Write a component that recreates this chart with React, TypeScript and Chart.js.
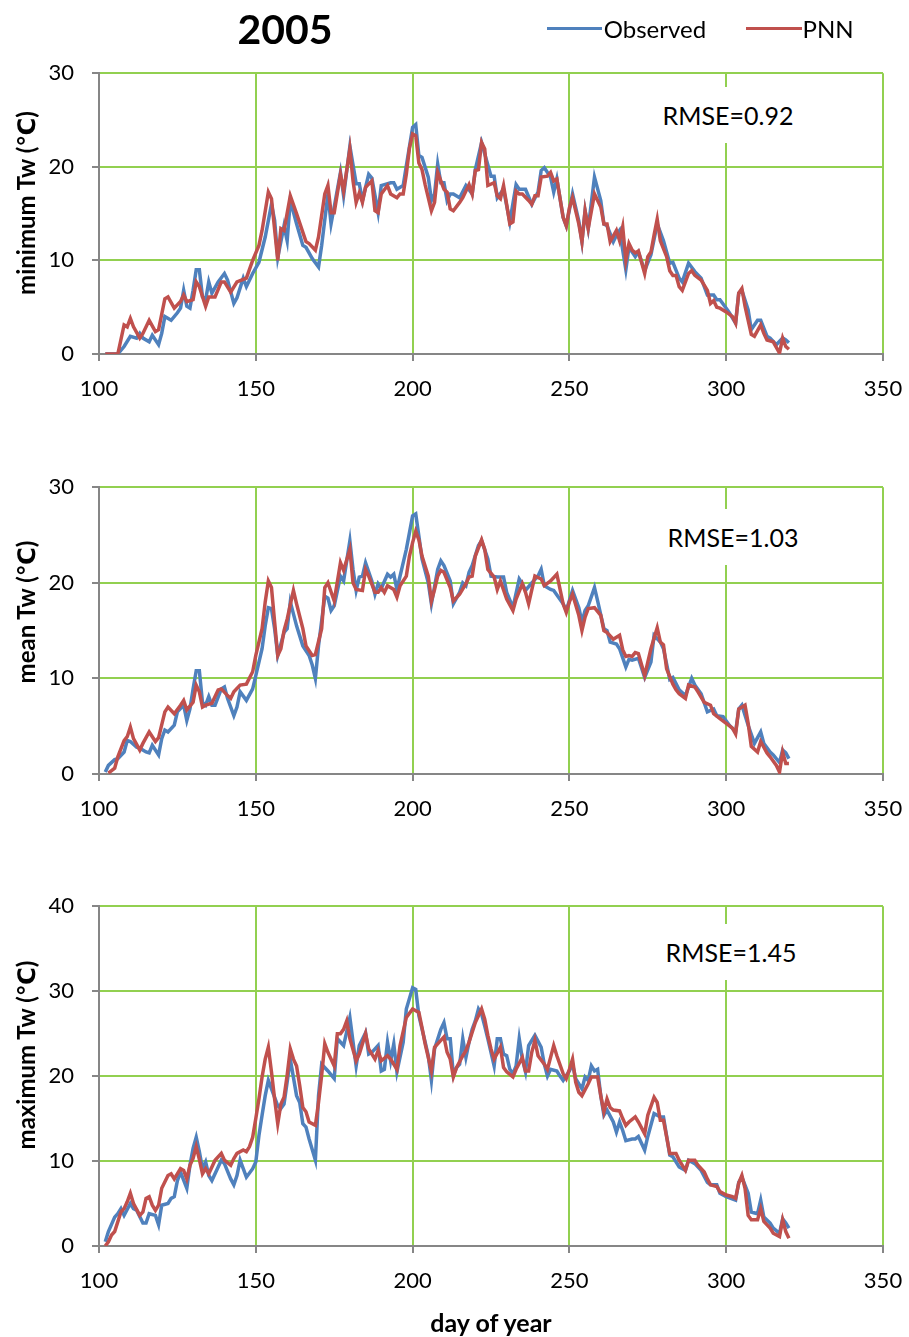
import React, { useEffect, useRef } from 'react';
import { Chart, registerables } from 'chart.js';

Chart.register(...registerables);

type Pt = [number, number];

const xTicks = [100, 150, 200, 250, 300, 350];
const legendLabels = ['Observed', 'PNN'];
const yearTitle = '2005';
const yTitles = ['minimum Tw (℃)', 'mean Tw (℃)', 'maximum Tw (℃)'];
const rmseLabels = ['RMSE=0.92', 'RMSE=1.03', 'RMSE=1.45'];
const yMaxima = [30, 30, 40];

const minObserved: Pt[] = [
  [102, 0], [106, 0], [108, 0.8], [110, 1.9], [112, 1.7], [113, 2.2], [114, 1.7], [116, 1.3], [117, 2.0], [119, 1.0],
  [120, 2.2], [121, 4.0], [123, 3.6], [125, 4.4], [126, 4.9], [127, 6.8], [128, 5.1], [129, 4.9], [130, 6.8], [131, 9.0],
  [132, 9.0], [133, 6.1], [134, 5.8], [135, 7.7], [136, 6.5], [138, 7.7], [140, 8.6], [141, 7.9], [143, 5.4], [144, 6.0],
  [146, 8.1], [147, 7.2], [149, 8.6], [151, 9.8], [153, 12.5], [155, 16.0], [156, 14.3], [157, 10.3], [159, 13.7], [160, 12.1],
  [161, 16.4], [163, 13.9], [165, 11.6], [166, 11.4], [168, 10.2], [170, 9.3], [171, 11.6], [173, 17.1], [174, 13.9], [175, 15.7],
  [177, 19.4], [178, 16.9], [180, 22.2], [182, 18.2], [183, 18.2], [184, 16.4], [186, 19.2], [187, 18.8], [189, 15.1], [190, 18.0],
  [191, 18.1], [193, 18.3], [194, 18.3], [195, 17.6], [197, 18.0], [198, 20.1], [200, 24.2], [201, 24.5], [202, 21.2], [203, 21.0],
  [205, 18.9], [206, 16.4], [207, 17.1], [208, 20.3], [209, 18.3], [210, 18.3], [211, 16.4], [212, 17.1], [213, 17.1], [215, 16.7],
  [217, 18.0], [219, 17.1], [220, 19.7], [222, 22.6], [225, 19.0], [226, 19.0], [227, 16.7], [229, 17.6], [231, 14.1], [233, 18.1],
  [234, 17.6], [236, 17.6], [238, 16.0], [240, 17.3], [241, 19.6], [242, 19.9], [244, 18.9], [245, 17.3], [246, 18.7], [248, 14.6],
  [249, 13.7], [251, 17.1], [253, 14.2], [254, 12.0], [255, 15.3], [256, 13.4], [258, 18.9], [260, 16.4], [261, 13.9], [262, 13.7],
  [264, 12.0], [265, 12.7], [266, 13.2], [268, 9.0], [269, 11.4], [271, 10.4], [272, 10.9], [274, 8.9], [276, 10.6], [278, 13.9],
  [280, 12.1], [282, 9.7], [283, 9.8], [285, 8.1], [286, 7.7], [288, 9.7], [290, 8.8], [292, 8.1], [294, 6.3], [296, 6.3],
  [297, 5.8], [298, 5.8], [300, 4.9], [301, 4.4], [303, 3.3], [304, 6.5], [305, 6.8], [307, 4.7], [308, 2.6], [310, 3.6],
  [311, 3.6], [313, 1.9], [314, 1.7], [316, 1.0], [318, 1.7], [319, 1.5], [320, 1.2],
];

const minPNN: Pt[] = [
  [102, 0], [106, 0], [108, 3.1], [109, 2.9], [110, 3.8], [111, 2.9], [113, 1.7], [114, 2.2], [116, 3.6], [118, 2.4],
  [119, 2.6], [121, 5.9], [122, 6.1], [124, 4.9], [126, 5.6], [127, 6.3], [128, 5.6], [130, 5.8], [131, 7.7], [132, 7.2],
  [134, 5.1], [135, 6.1], [137, 6.1], [139, 7.7], [140, 7.7], [142, 6.6], [144, 7.7], [147, 8.1], [149, 10.0], [151, 11.6],
  [152, 13.2], [154, 17.3], [155, 16.6], [157, 10.0], [158, 13.4], [159, 13.2], [161, 16.9], [163, 15.0], [166, 12.0], [167, 11.8],
  [169, 11.1], [170, 12.5], [172, 17.1], [173, 18.0], [174, 15.1], [175, 15.1], [177, 19.2], [178, 17.4], [180, 21.9], [181, 18.5],
  [182, 16.2], [183, 17.2], [184, 16.2], [185, 17.8], [187, 18.5], [188, 15.3], [189, 15.1], [190, 17.1], [192, 18.0], [193, 17.1],
  [195, 16.7], [196, 17.1], [197, 17.1], [198, 19.2], [199, 22.0], [200, 23.5], [201, 23.3], [202, 20.4], [203, 19.7], [204, 18.1],
  [206, 15.3], [207, 16.2], [208, 19.4], [210, 17.6], [211, 17.3], [212, 15.5], [213, 15.3], [215, 16.2], [216, 16.7], [218, 18.1],
  [219, 17.1], [220, 19.6], [221, 19.7], [222, 22.6], [223, 21.9], [224, 18.0], [226, 18.3], [227, 16.9], [228, 16.6], [229, 18.0],
  [231, 13.9], [232, 14.1], [233, 17.4], [234, 17.1], [235, 17.1], [237, 16.4], [238, 16.0], [239, 16.9], [240, 16.9], [241, 18.9],
  [243, 19.0], [244, 19.4], [245, 18.5], [246, 18.7], [248, 14.6], [249, 13.7], [250, 15.6], [251, 16.7], [253, 13.9], [254, 12.0],
  [255, 15.3], [256, 13.4], [258, 17.1], [260, 15.7], [261, 13.9], [262, 13.9], [263, 12.0], [265, 13.2], [266, 12.1], [267, 13.6],
  [268, 10.0], [269, 11.8], [270, 11.1], [271, 10.8], [272, 11.0], [274, 8.6], [275, 10.4], [276, 10.9], [277, 12.7], [278, 14.4],
  [279, 12.1], [281, 10.4], [282, 8.9], [283, 8.4], [284, 8.4], [285, 7.2], [286, 6.8], [288, 8.6], [289, 8.9], [290, 8.4],
  [292, 7.9], [294, 6.8], [295, 5.4], [296, 5.7], [297, 5.0], [298, 4.9], [300, 4.5], [302, 4.0], [303, 3.3], [304, 6.5],
  [305, 7.0], [306, 5.1], [308, 2.1], [309, 1.9], [311, 3.1], [312, 2.2], [313, 1.5], [315, 1.3], [317, 0.1], [318, 1.7],
  [319, 0.8], [320, 0.5],
];

const meanObserved: Pt[] = [
  [102, 0.2], [103, 0.9], [105, 1.5], [106, 1.6], [108, 2.3], [109, 3.5], [110, 3.4], [112, 2.8], [113, 2.7], [115, 2.3],
  [116, 2.2], [117, 3.0], [119, 2.0], [120, 3.7], [121, 4.6], [122, 4.4], [124, 5.1], [125, 6.5], [127, 7.2], [128, 5.6],
  [129, 6.8], [130, 8.9], [131, 10.8], [132, 10.8], [133, 7.5], [134, 7.2], [135, 8.1], [136, 7.2], [137, 7.2], [139, 8.9],
  [140, 9.1], [141, 7.9], [143, 6.1], [144, 7.0], [145, 8.6], [147, 7.7], [149, 8.9], [150, 10.3], [152, 13.1], [153, 15.5],
  [154, 17.4], [155, 17.3], [156, 15.2], [157, 12.4], [159, 14.8], [160, 15.2], [161, 18.0], [163, 15.5], [165, 13.4], [167, 12.4],
  [168, 11.4], [169, 10.0], [170, 13.4], [172, 18.6], [173, 18.4], [174, 17.1], [175, 17.6], [177, 20.7], [178, 20.2], [180, 24.4],
  [181, 21.4], [182, 19.2], [183, 20.6], [184, 20.7], [185, 22.1], [187, 20.2], [188, 18.8], [189, 19.9], [190, 19.4], [192, 20.9],
  [193, 20.6], [194, 20.9], [195, 19.3], [196, 20.7], [198, 23.5], [200, 27.0], [201, 27.2], [202, 24.9], [203, 22.5], [205, 20.0],
  [206, 17.8], [208, 21.4], [209, 22.3], [210, 21.8], [212, 20.2], [213, 17.8], [215, 19.0], [216, 20.0], [217, 19.7], [218, 21.1],
  [219, 21.8], [221, 23.9], [222, 24.4], [224, 22.5], [225, 20.7], [227, 20.6], [229, 20.6], [230, 19.0], [232, 17.4], [234, 20.4],
  [235, 19.9], [236, 19.2], [238, 20.0], [240, 20.7], [241, 21.4], [242, 19.7], [244, 19.3], [245, 19.2], [248, 17.8], [249, 17.1],
  [251, 19.2], [253, 17.4], [254, 15.9], [255, 17.1], [256, 17.6], [258, 19.5], [259, 18.1], [261, 15.2], [262, 15.0], [263, 13.8],
  [265, 13.6], [266, 13.1], [268, 11.2], [269, 12.0], [270, 11.9], [272, 12.1], [274, 10.1], [276, 11.7], [277, 14.5], [279, 13.8],
  [280, 13.1], [282, 9.9], [283, 10.1], [285, 8.8], [287, 8.2], [289, 10.0], [290, 9.3], [292, 8.4], [294, 6.5], [296, 6.8],
  [297, 6.1], [299, 6.0], [301, 5.1], [303, 4.4], [304, 6.8], [305, 7.2], [307, 5.1], [309, 3.2], [311, 4.4], [312, 3.2],
  [314, 2.3], [315, 2.0], [317, 1.2], [318, 2.5], [319, 2.2], [320, 1.6],
];

const meanPNN: Pt[] = [
  [103, 0.1], [105, 0.6], [106, 1.8], [108, 3.5], [109, 3.9], [110, 4.9], [111, 3.7], [113, 2.5], [114, 3.2], [116, 4.4],
  [117, 3.9], [118, 3.4], [119, 3.8], [121, 6.5], [122, 7.0], [124, 6.3], [126, 7.2], [127, 7.7], [128, 6.7], [130, 7.5],
  [131, 9.3], [132, 8.6], [133, 7.0], [134, 7.2], [136, 7.4], [138, 8.8], [139, 8.9], [141, 8.2], [142, 7.9], [143, 8.6],
  [145, 9.3], [147, 9.4], [149, 10.7], [150, 12.4], [152, 15.2], [153, 18.0], [154, 20.2], [155, 19.5], [156, 15.9], [157, 12.4],
  [158, 13.1], [159, 15.0], [160, 16.2], [162, 19.2], [163, 17.8], [165, 15.2], [166, 13.4], [168, 12.4], [169, 12.5], [171, 15.2],
  [172, 19.5], [173, 20.0], [175, 18.1], [177, 22.1], [178, 21.3], [180, 23.5], [181, 20.0], [182, 19.3], [184, 19.2], [185, 21.4],
  [186, 20.7], [188, 19.0], [189, 19.0], [190, 19.5], [191, 19.0], [192, 19.7], [194, 19.3], [195, 18.5], [196, 19.7], [198, 20.7],
  [199, 22.8], [200, 24.2], [201, 25.4], [202, 24.5], [203, 22.8], [205, 20.7], [206, 18.1], [207, 19.3], [208, 20.7], [209, 21.3],
  [210, 21.1], [212, 19.5], [213, 18.1], [215, 18.8], [217, 19.9], [218, 20.6], [219, 20.7], [220, 22.8], [222, 24.5], [223, 23.5],
  [224, 21.4], [226, 20.6], [227, 19.3], [228, 20.2], [230, 18.3], [232, 17.1], [233, 18.3], [235, 19.9], [236, 19.0], [237, 17.8],
  [239, 20.7], [241, 20.4], [242, 19.7], [244, 20.2], [246, 20.9], [248, 17.8], [249, 16.9], [250, 18.0], [251, 18.8], [253, 16.6],
  [254, 15.0], [255, 16.4], [256, 17.3], [258, 17.4], [260, 16.6], [261, 15.0], [262, 14.8], [264, 14.1], [265, 14.3], [266, 14.5],
  [267, 13.0], [268, 12.3], [269, 12.4], [270, 12.3], [271, 12.7], [272, 12.6], [274, 10.3], [275, 11.7], [276, 13.1], [278, 15.3],
  [279, 13.8], [280, 13.5], [281, 11.0], [283, 9.4], [284, 8.8], [285, 8.4], [287, 7.9], [288, 9.3], [290, 9.1], [291, 8.6],
  [293, 7.5], [295, 7.2], [296, 6.3], [298, 5.8], [300, 5.3], [302, 4.8], [303, 4.2], [304, 6.8], [306, 7.2], [307, 5.3],
  [308, 2.9], [310, 2.3], [311, 3.4], [313, 2.2], [314, 1.8], [316, 0.9], [317, 0.2], [318, 2.3], [319, 1.1], [320, 1.1],
];

const maxObserved: Pt[] = [
  [102, 0.5], [103, 1.7], [105, 3.4], [106, 3.8], [107, 4.4], [108, 3.6], [110, 5.0], [111, 4.4], [112, 4.2], [114, 2.7],
  [115, 2.7], [116, 3.8], [118, 3.6], [119, 2.5], [120, 4.8], [122, 5.0], [123, 5.6], [124, 5.8], [125, 7.7], [126, 8.7],
  [128, 6.8], [129, 9.5], [130, 11.5], [131, 12.8], [132, 11.1], [133, 9.1], [134, 9.9], [135, 8.3], [136, 7.7], [138, 9.3],
  [139, 10.1], [140, 9.7], [142, 7.9], [143, 7.2], [144, 8.3], [145, 10.1], [146, 9.1], [147, 8.1], [149, 9.1], [150, 9.9],
  [151, 13.0], [152, 15.4], [153, 17.7], [154, 19.5], [155, 18.5], [157, 16.5], [158, 16.2], [159, 16.7], [160, 19.3], [161, 22.0],
  [163, 17.7], [164, 16.9], [165, 14.4], [166, 14.0], [167, 12.6], [169, 10.1], [170, 17.7], [171, 21.4], [173, 20.6], [175, 19.7],
  [176, 24.4], [178, 23.6], [180, 26.9], [182, 21.2], [183, 23.6], [185, 25.1], [186, 22.6], [187, 22.8], [189, 23.6], [190, 20.6],
  [191, 20.8], [192, 24.0], [193, 21.8], [194, 23.8], [195, 20.5], [197, 24.0], [198, 27.9], [200, 30.4], [201, 30.2], [202, 27.1],
  [204, 24.0], [205, 22.4], [206, 19.5], [207, 23.2], [209, 25.5], [210, 26.3], [211, 24.4], [212, 24.4], [213, 20.1], [214, 21.0],
  [215, 21.4], [216, 24.4], [217, 22.2], [218, 24.0], [219, 25.5], [220, 26.5], [221, 27.9], [222, 27.3], [223, 25.9], [224, 24.4],
  [226, 21.2], [227, 24.4], [228, 24.4], [229, 22.6], [230, 22.4], [231, 20.8], [232, 20.3], [233, 21.2], [234, 24.4], [235, 22.0],
  [236, 20.5], [237, 23.6], [239, 24.8], [241, 23.4], [242, 21.4], [243, 20.0], [244, 20.8], [246, 20.6], [247, 20.0], [248, 19.5],
  [250, 20.6], [251, 21.4], [252, 19.7], [254, 18.5], [255, 19.9], [256, 19.5], [257, 21.2], [258, 20.6], [259, 20.8], [260, 17.7],
  [261, 15.4], [262, 16.0], [264, 14.6], [265, 13.4], [266, 14.6], [267, 13.6], [268, 12.4], [270, 12.6], [271, 12.6], [272, 12.9],
  [274, 11.3], [275, 12.9], [277, 15.6], [279, 15.2], [280, 15.2], [282, 10.7], [283, 10.5], [285, 9.3], [287, 8.9], [288, 10.1],
  [290, 9.7], [292, 8.9], [294, 7.5], [295, 7.2], [297, 7.2], [298, 6.2], [300, 5.8], [303, 5.4], [304, 7.5], [305, 8.1],
  [307, 6.2], [308, 4.0], [310, 3.8], [311, 5.4], [312, 3.4], [314, 2.7], [315, 2.1], [317, 1.5], [318, 3.2], [319, 2.7],
  [320, 2.1],
];

const maxPNN: Pt[] = [
  [102, 0], [103, 0.5], [104, 1.3], [105, 1.7], [107, 4.0], [108, 4.4], [109, 5.2], [110, 6.2], [111, 5.0], [113, 3.6],
  [114, 4.0], [115, 5.6], [116, 5.8], [117, 4.8], [118, 4.2], [119, 4.8], [120, 6.8], [122, 8.3], [123, 8.5], [124, 7.9],
  [126, 9.1], [127, 8.9], [128, 7.9], [129, 9.5], [130, 10.3], [131, 11.7], [132, 10.2], [133, 8.5], [134, 9.1], [135, 8.5],
  [137, 10.1], [139, 10.9], [140, 10.1], [142, 9.5], [143, 10.3], [144, 10.9], [146, 11.3], [147, 11.1], [148, 11.7], [149, 12.8],
  [150, 15.0], [151, 17.3], [152, 19.9], [153, 22.0], [154, 23.4], [155, 20.5], [156, 17.3], [157, 14.4], [158, 16.7], [159, 17.5],
  [160, 20.1], [161, 23.2], [162, 22.0], [163, 21.2], [164, 18.9], [165, 16.3], [166, 15.8], [167, 14.6], [169, 14.2], [170, 16.9],
  [171, 20.1], [172, 23.8], [173, 22.8], [175, 21.2], [176, 25.0], [177, 25.0], [178, 25.5], [179, 26.5], [180, 24.4], [182, 21.8],
  [183, 22.6], [185, 25.0], [186, 23.2], [188, 22.0], [189, 23.0], [190, 21.8], [192, 22.4], [193, 22.0], [195, 20.8], [196, 23.6],
  [198, 26.9], [200, 27.9], [202, 27.5], [203, 25.7], [204, 23.8], [206, 20.6], [207, 23.4], [209, 24.2], [210, 24.6], [211, 22.8],
  [212, 22.0], [213, 19.9], [214, 21.0], [216, 22.4], [217, 23.0], [218, 24.0], [220, 26.3], [222, 27.9], [223, 26.7], [224, 24.8],
  [225, 23.2], [226, 22.0], [228, 23.4], [229, 21.0], [230, 20.5], [232, 19.9], [233, 20.8], [235, 22.2], [236, 20.6], [237, 20.6],
  [238, 22.8], [239, 24.2], [240, 22.4], [242, 21.4], [243, 20.8], [244, 22.2], [245, 23.6], [246, 22.4], [248, 20.3], [249, 19.7],
  [250, 20.8], [251, 22.0], [252, 19.3], [253, 18.1], [254, 17.7], [256, 19.1], [257, 19.9], [259, 19.9], [260, 17.7], [261, 15.8],
  [262, 17.3], [263, 16.3], [264, 16.0], [266, 15.9], [267, 15.0], [268, 14.2], [269, 14.6], [271, 15.2], [272, 14.6], [274, 13.2],
  [275, 15.4], [277, 17.5], [278, 16.9], [279, 14.8], [280, 14.8], [282, 10.9], [284, 10.9], [285, 10.1], [287, 8.9], [288, 10.1],
  [290, 10.1], [291, 9.5], [293, 8.7], [294, 7.9], [295, 7.2], [297, 7.0], [298, 6.4], [300, 6.0], [302, 5.8], [303, 5.6],
  [304, 7.4], [305, 8.3], [306, 6.8], [307, 3.6], [308, 3.1], [310, 3.1], [311, 4.4], [312, 2.9], [314, 2.1], [315, 1.5],
  [317, 1.1], [318, 3.1], [319, 1.7], [320, 0.9],
];

const BLUE = '#4F81BD';
const RED = '#C0504D';
const GREEN = '#92D050';
const GREY = '#868686';
const FONT = "Lato, 'Open Sans', 'DejaVu Sans', sans-serif";

const PLOT_LEFT = 99;
const PLOT_RIGHT = 883;
const PAGE_W = 909;
const CANVAS_W = 960;
const TOP_PAD = 30;
const X_AXIS_H = 62;

type PanelProps = {
  plotTop: number;
  plotBottom: number;
  yMax: number;
  observed: Pt[];
  pnn: Pt[];
};

function Panel({ plotTop, plotBottom, yMax, observed, pnn }: PanelProps) {
  const ref = useRef<HTMLCanvasElement | null>(null);
  const canvasTop = plotTop - TOP_PAD;
  const canvasH = plotBottom - plotTop + TOP_PAD + X_AXIS_H;

  useEffect(() => {
    if (!ref.current) return;
    const chart = new Chart(ref.current, {
      type: 'line',
      data: {
        datasets: [
          {
            label: legendLabels[1],
            data: pnn.map(([x, y]) => ({ x, y })),
            borderColor: RED,
            backgroundColor: RED,
            borderWidth: 3.5,
            pointRadius: 0,
            tension: 0,
            order: 0,
          },
          {
            label: legendLabels[0],
            data: observed.map(([x, y]) => ({ x, y })),
            borderColor: BLUE,
            backgroundColor: BLUE,
            borderWidth: 3.5,
            pointRadius: 0,
            tension: 0,
            order: 1,
          },
        ],
      },
      options: {
        responsive: false,
        animation: false,
        events: [],
        layout: { padding: { top: TOP_PAD, right: CANVAS_W - PLOT_RIGHT, bottom: 0, left: 0 } },
        plugins: { legend: { display: false }, tooltip: { enabled: false }, title: { display: false } },
        scales: {
          x: {
            type: 'linear',
            min: xTicks[0],
            max: xTicks[xTicks.length - 1],
            afterBuildTicks: (scale: any) => {
              scale.ticks = xTicks.map((v) => ({ value: v }));
            },
            ticks: {
              stepSize: 50,
              color: '#000',
              font: { size: 22, family: FONT },
              padding: 15,
              maxRotation: 0,
              autoSkip: false,
            },
            grid: { color: GREEN, lineWidth: 2, tickColor: GREY, tickLength: 7 },
            border: { color: GREY, width: 2 },
            afterFit: (scale: any) => {
              scale.height = X_AXIS_H;
            },
          },
          y: {
            type: 'linear',
            min: 0,
            max: yMax,
            ticks: {
              stepSize: 10,
              color: '#000',
              font: { size: 22, family: FONT },
              padding: 18,
            },
            grid: { color: GREEN, lineWidth: 2, tickColor: GREY, tickLength: 7 },
            border: { color: GREY, width: 2 },
            afterFit: (scale: any) => {
              scale.width = PLOT_LEFT;
            },
          },
        },
      },
    });
    return () => chart.destroy();
  }, [plotTop, plotBottom, yMax, observed, pnn]);

  return (
    <canvas
      ref={ref}
      width={CANVAS_W}
      height={canvasH}
      style={{ position: 'absolute', left: 0, top: canvasTop, width: CANVAS_W, height: canvasH, display: 'block' }}
    />
  );
}

const abs = (left: number, top: number): React.CSSProperties => ({
  position: 'absolute',
  left,
  top,
  transform: 'translate(-50%, -50%)',
  whiteSpace: 'nowrap',
});

export default function App() {
  const panels = [
    { plotTop: 72, plotBottom: 354, observed: minObserved, pnn: minPNN, titleY: 203, rmse: [728, 115] },
    { plotTop: 486, plotBottom: 774, observed: meanObserved, pnn: meanPNN, titleY: 612, rmse: [733, 537] },
    { plotTop: 905, plotBottom: 1246, observed: maxObserved, pnn: maxPNN, titleY: 1055, rmse: [731, 952] },
  ];
  return (
    <div
      style={{
        position: 'absolute',
        left: 0,
        top: 0,
        width: PAGE_W,
        height: 1337,
        background: '#fff',
        fontFamily: FONT,
        color: '#000',
        overflow: 'hidden',
      }}
    >
      {panels.map((p, i) => (
        <Panel key={i} plotTop={p.plotTop} plotBottom={p.plotBottom} yMax={yMaxima[i]} observed={p.observed} pnn={p.pnn} />
      ))}
      {panels.map((p, i) => (
        <div
          key={'t' + i}
          style={{ ...abs(26, p.titleY), transform: 'translate(-50%, -50%) rotate(-90deg)', fontWeight: 700, fontSize: 24 }}
        >
          {yTitles[i]}
        </div>
      ))}
      {panels.map((p, i) => (
        <div
          key={'r' + i}
          style={{ ...abs(p.rmse[0], p.rmse[1]), background: '#fff', padding: '14px 4px', fontSize: 25, lineHeight: '28px' }}
        >
          {rmseLabels[i]}
        </div>
      ))}
      <div style={{ ...abs(285, 28), fontWeight: 700, fontSize: 41 }}>{yearTitle}</div>
      <div style={{ position: 'absolute', left: 547, top: 27, width: 55, height: 3, background: BLUE }} />
      <div style={{ ...abs(655, 28), fontSize: 24 }}>{legendLabels[0]}</div>
      <div style={{ position: 'absolute', left: 746, top: 27, width: 56, height: 3, background: RED }} />
      <div style={{ ...abs(828, 28), fontSize: 24 }}>{legendLabels[1]}</div>
      <div style={{ ...abs(491, 1322), fontWeight: 700, fontSize: 25 }}>day of year</div>
    </div>
  );
}
